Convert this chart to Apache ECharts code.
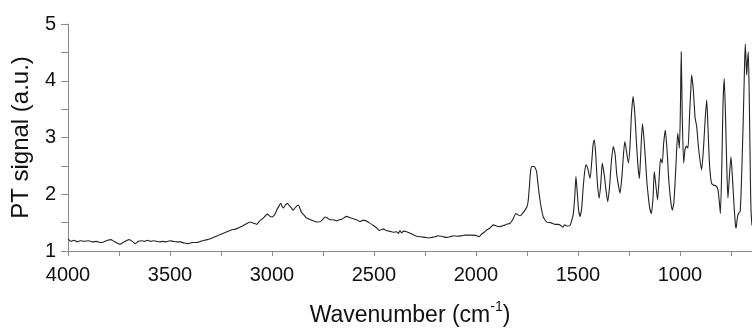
<!DOCTYPE html>
<html>
<head>
<meta charset="utf-8">
<script src="https://cdn.jsdelivr.net/npm/echarts@6/dist/echarts.min.js"></script>
<style>html,body{margin:0;padding:0;background:#fff;}#c{width:752px;height:329px;}</style>
</head>
<body>
<div id="c"></div>
<script>
var wavenumbers = [4000,3985,3970,3955,3940,3920,3900,3880,3860,3840,3825,3805,3790,3775,3760,3745,3730,3715,3700,3685,3670,3655,3640,3625,3610,3595,3580,3565,3550,3535,3520,3500,3485,3465,3450,3430,3410,3390,3370,3350,3330,3305,3280,3260,3240,3220,3200,3175,3150,3130,3108,3090,3075,3060,3043,3030,3023,3010,3000,2985,2977,2965,2957,2950,2944,2935,2925,2915,2905,2896,2885,2871,2862,2855,2840,2830,2810,2790,2773,2755,2740,2728,2716,2700,2683,2670,2658,2645,2634,2620,2601,2585,2569,2555,2544,2525,2503,2488,2474,2462,2454,2440,2425,2405,2390,2380,2373,2365,2355,2340,2320,2305,2291,2270,2250,2234,2215,2200,2185,2170,2160,2145,2127,2110,2090,2070,2050,2030,2013,1995,1985,1975,1960,1948,1930,1915,1900,1882,1865,1850,1833,1820,1804,1795,1784,1770,1760,1750,1744,1738,1732,1725,1715,1708,1703,1695,1686,1678,1670,1653,1635,1613,1597,1585,1575,1565,1552,1539,1530,1523,1516,1510,1504,1497,1490,1482,1475,1467,1461,1452,1441,1432,1426,1420,1413,1405,1396,1388,1381,1376,1370,1362,1354,1345,1337,1327,1318,1310,1300,1294,1285,1276,1270,1262,1253,1245,1238,1230,1222,1214,1206,1199,1192,1184,1177,1170,1163,1155,1148,1140,1132,1126,1118,1110,1102,1095,1087,1080,1072,1063,1055,1046,1038,1030,1020,1011,1003,998,994,989,982,975,968,961,953,947,943,935,926,918,910,902,894,885,877,869,862,856,850,845,835,825,815,808,802,795,789,783,777,770,765,758,750,743,735,728,725,720,714,705,698,690,684,680,676,673,669,665,660,655,652,647];
var ptSignal = [1.21,1.17,1.19,1.16,1.18,1.17,1.18,1.16,1.17,1.15,1.16,1.19,1.20,1.17,1.14,1.12,1.15,1.18,1.20,1.17,1.13,1.17,1.18,1.17,1.19,1.17,1.18,1.17,1.16,1.17,1.16,1.18,1.17,1.16,1.16,1.14,1.13,1.15,1.15,1.17,1.19,1.21,1.25,1.28,1.31,1.34,1.37,1.39,1.43,1.47,1.51,1.49,1.47,1.53,1.58,1.63,1.65,1.61,1.60,1.65,1.72,1.80,1.84,1.78,1.76,1.81,1.84,1.80,1.76,1.72,1.77,1.81,1.74,1.68,1.62,1.58,1.55,1.52,1.51,1.54,1.60,1.58,1.55,1.55,1.53,1.55,1.56,1.59,1.61,1.59,1.57,1.55,1.52,1.54,1.54,1.50,1.45,1.41,1.36,1.38,1.39,1.36,1.35,1.33,1.34,1.31,1.36,1.32,1.35,1.34,1.31,1.28,1.26,1.25,1.24,1.23,1.24,1.25,1.27,1.26,1.25,1.24,1.25,1.27,1.26,1.27,1.28,1.28,1.28,1.27,1.25,1.29,1.33,1.37,1.41,1.46,1.44,1.43,1.45,1.47,1.49,1.55,1.66,1.64,1.62,1.67,1.72,1.78,1.89,2.15,2.42,2.49,2.49,2.45,2.40,2.15,1.89,1.72,1.60,1.51,1.50,1.47,1.47,1.45,1.42,1.46,1.44,1.45,1.55,1.65,1.95,2.31,2.05,1.72,1.61,1.75,2.10,2.40,2.52,2.45,2.28,2.60,2.88,2.96,2.70,2.20,1.93,2.20,2.55,2.45,2.31,2.05,1.87,2.15,2.55,2.84,2.70,2.35,2.12,2.02,2.30,2.75,2.93,2.75,2.55,2.85,3.40,3.72,3.45,2.95,2.50,2.28,2.75,3.24,3.00,2.65,2.25,1.95,1.75,1.66,1.95,2.40,2.15,1.90,2.30,2.63,2.55,2.90,3.13,2.75,2.25,1.90,1.72,1.85,2.50,3.08,2.81,3.50,4.51,3.40,2.55,2.80,2.85,2.81,3.40,3.85,4.10,3.85,3.35,3.19,2.85,2.60,2.43,2.80,3.30,3.66,3.10,2.57,2.30,2.19,2.16,2.15,2.10,1.90,1.66,2.50,3.60,4.04,3.40,2.40,1.93,2.30,2.66,2.30,1.80,1.45,1.40,1.55,1.66,1.70,2.30,3.30,4.20,4.65,4.35,4.10,4.35,4.51,3.60,2.30,1.72,1.45];
var xTickValues = [750,1000,1250,1500,1750,2000,2250,2500,2750,3000,3250,3500,3750,4000];
var xLabelValues = [1000,1500,2000,2500,3000,3500,4000];
var yTickLabels = ['1','2','3','4','5'];

var pts = wavenumbers.map(function(w,i){return [w, ptSignal[i]];});
var FONT = 'Liberation Sans, Arial, sans-serif';
var chart = echarts.init(document.getElementById('c'), null, {renderer:'canvas'});
chart.setOption({
  animation:false,
  backgroundColor:'#fff',
  grid:{left:68, right:0, top:24, bottom:78, containLabel:false, outerBoundsMode:'none'},
  xAxis:{
    type:'value', inverse:true, min:647, max:4000,
    name:'{n|Wavenumber (cm}{s|-1}{n|)}',
    nameLocation:'middle', nameGap:49,
    nameTextStyle:{rich:{n:{fontSize:23,fontFamily:FONT,color:'#111',verticalAlign:'bottom',lineHeight:27},s:{fontSize:14,fontFamily:FONT,color:'#111',verticalAlign:'top',lineHeight:27,padding:[0,0,12,0]}}},
    axisLine:{show:true,onZero:false,lineStyle:{color:'#8a8a8a',width:1}},
    axisTick:{show:true,inside:false,length:5,customValues:xTickValues,lineStyle:{color:'#8a8a8a'}},
    axisLabel:{customValues:xLabelValues,fontSize:20,fontFamily:FONT,color:'#111',margin:14,showMinLabel:true,showMaxLabel:true,
      formatter:function(v){return String(Math.round(v));}},
    splitLine:{show:false}
  },
  yAxis:{
    type:'value', min:1, max:5, interval:0.5,
    name:'PT signal (a.u.)', nameLocation:'middle', nameGap:35,
    nameTextStyle:{fontSize:24,fontFamily:FONT,color:'#111'},
    axisLine:{show:true,lineStyle:{color:'#8a8a8a',width:1}},
    axisTick:{show:true,length:7,lineStyle:{color:'#8a8a8a'}},
    axisLabel:{fontSize:20,fontFamily:FONT,color:'#111',margin:12,
      formatter:function(v){var s=String(v);return yTickLabels.indexOf(s)>=0?s:'';}},
    splitLine:{show:false}
  },
  series:[{type:'line',data:pts,showSymbol:false,smooth:0.2,clip:true,
    lineStyle:{color:'#222',width:1.1}}]
});
</script>
</body>
</html>
